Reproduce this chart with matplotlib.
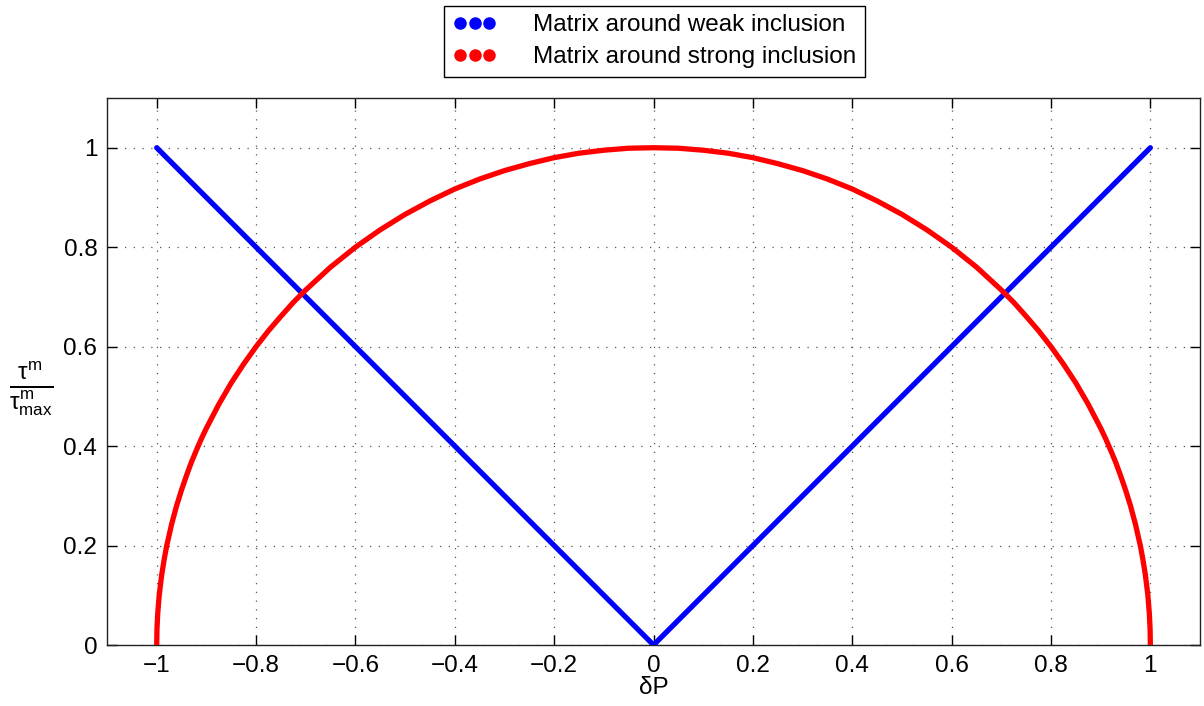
import matplotlib.pyplot as plt
from matplotlib.lines import Line2D

plt.rcParams['font.family'] = ['Liberation Sans', 'DejaVu Sans']
plt.rcParams['mathtext.fontset'] = 'custom'
plt.rcParams['mathtext.rm'] = 'Liberation Sans'
plt.rcParams['mathtext.it'] = 'Liberation Sans'

# weak inclusion: V shape
weak_x = [-1.0, -0.5, 0.0, 0.5, 1.0]
weak_y = [1.0, 0.5, 0.0, 0.5, 1.0]

# strong inclusion: half circle
strong_x = [-1.0, -0.9995, -0.998, -0.995, -0.99, -0.985, -0.98, -0.97, -0.96, -0.95,
            -0.94, -0.93, -0.92, -0.91, -0.9, -0.875, -0.85, -0.825, -0.8, -0.775,
            -0.75, -0.725, -0.7, -0.65, -0.6, -0.55, -0.5, -0.45, -0.4, -0.35,
            -0.3, -0.25, -0.2, -0.15, -0.1, -0.05, 0.0, 0.05, 0.1, 0.15,
            0.2, 0.25, 0.3, 0.35, 0.4, 0.45, 0.5, 0.55, 0.6, 0.65,
            0.7, 0.725, 0.75, 0.775, 0.8, 0.825, 0.85, 0.875, 0.9, 0.91,
            0.92, 0.93, 0.94, 0.95, 0.96, 0.97, 0.98, 0.985, 0.99, 0.995,
            0.998, 0.9995, 1.0]
strong_y = [0.0, 0.032, 0.063, 0.100, 0.141, 0.172, 0.199, 0.243, 0.280, 0.312,
            0.341, 0.368, 0.392, 0.415, 0.436, 0.484, 0.527, 0.565, 0.600, 0.632,
            0.661, 0.689, 0.714, 0.760, 0.800, 0.835, 0.866, 0.893, 0.917, 0.937,
            0.954, 0.968, 0.980, 0.989, 0.995, 0.999, 1.0, 0.999, 0.995, 0.989,
            0.980, 0.968, 0.954, 0.937, 0.917, 0.893, 0.866, 0.835, 0.800, 0.760,
            0.714, 0.689, 0.661, 0.632, 0.600, 0.565, 0.527, 0.484, 0.436, 0.415,
            0.392, 0.368, 0.341, 0.312, 0.280, 0.243, 0.199, 0.172, 0.141, 0.100,
            0.063, 0.032, 0.0]

xticks = [-1, -0.8, -0.6, -0.4, -0.2, 0, 0.2, 0.4, 0.6, 0.8, 1]
xtick_labels = ['\u22121', '\u22120.8', '\u22120.6', '\u22120.4', '\u22120.2', '0',
                '0.2', '0.4', '0.6', '0.8', '1']
yticks = [0, 0.2, 0.4, 0.6, 0.8, 1]
ytick_labels = ['0', '0.2', '0.4', '0.6', '0.8', '1']

fig = plt.figure(figsize=(12.04, 7.06), dpi=100)
ax = fig.add_axes([0.0889, 0.0864, 0.9078, 0.7748])

ax.plot(weak_x, weak_y, color='#0000ff', lw=3.8, solid_capstyle='round',
        solid_joinstyle='round', zorder=3)
ax.plot(strong_x, strong_y, color='#ff0000', lw=3.8, solid_capstyle='round',
        solid_joinstyle='round', zorder=3)

ax.set_xlim(-1.1, 1.1)
ax.set_ylim(0, 1.1)
ax.set_xticks(xticks)
ax.set_xticklabels(xtick_labels)
ax.set_yticks(yticks)
ax.set_yticklabels(ytick_labels)
ax.tick_params(direction='in', length=7, width=1, labelsize=17.5, top=True, right=True,
               pad=7)
ax.grid(True, color='#555555', linestyle=(0, (1, 6)), linewidth=0.9)
for sp in ax.spines.values():
    sp.set_linewidth(1.0)
    sp.set_color('#222222')

ax.set_xlabel('\u03b4P', fontsize=17.5, labelpad=0)
ax.set_ylabel(r'$\frac{\tau^m}{\tau^m_{max}}$', fontsize=25, rotation=0,
              ha='center', va='center')
ax.yaxis.set_label_coords(-0.069, 0.468)

handles = [Line2D([], [], color='#0000ff', marker='o', ls='none', ms=8),
           Line2D([], [], color='#ff0000', marker='o', ls='none', ms=8)]
fig.legend(handles, ['Matrix around weak inclusion', 'Matrix around strong inclusion'],
           loc='upper center', bbox_to_anchor=(0.5435, 0.992), numpoints=3,
           fontsize=17.5, fancybox=False, edgecolor='black', framealpha=1,
           handlelength=1.8, handletextpad=1.5, borderpad=0.35, labelspacing=0.42,
           borderaxespad=0)

fig.savefig('out.png', dpi=100)
